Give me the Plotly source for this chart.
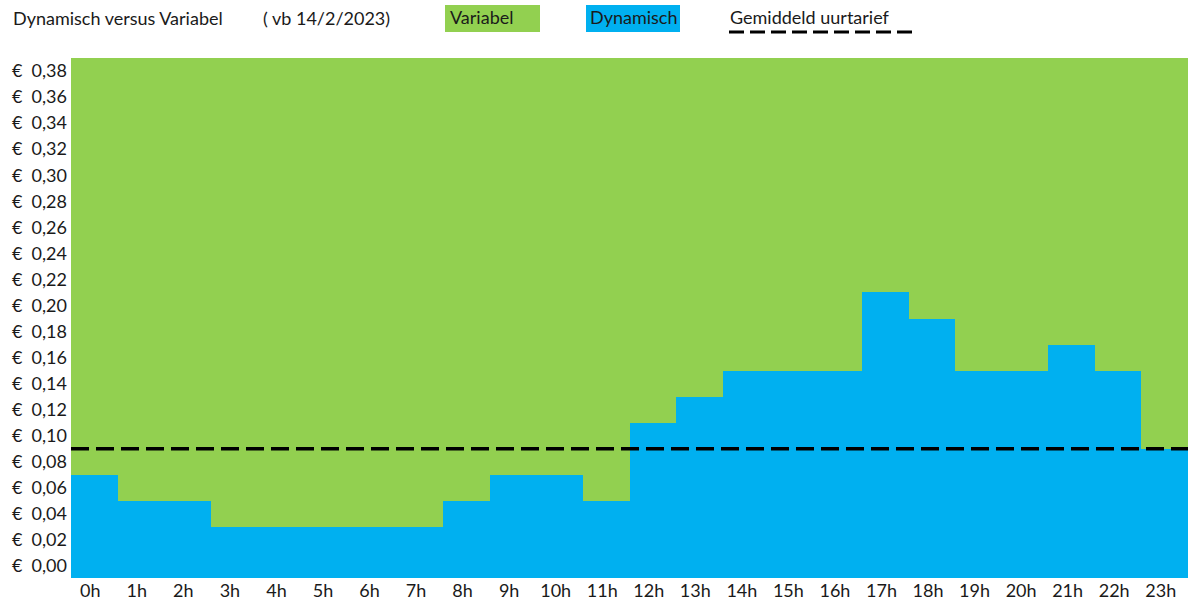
import plotly.graph_objects as go

hours = [f"{h}h" for h in range(24)]
dynamisch = [0.07, 0.05, 0.05, 0.03, 0.03, 0.03, 0.03, 0.03, 0.05, 0.07, 0.07, 0.05,
             0.11, 0.13, 0.15, 0.15, 0.15, 0.21, 0.19, 0.15, 0.15, 0.17, 0.15, 0.09]
gemiddeld = 0.09
y_ticks = [round(0.02 * i, 2) for i in range(20)]
y_labels = ["€  " + f"{v:.2f}".replace(".", ",") for v in y_ticks]

Y_MIN, Y_MAX = -0.0092, 0.39
GREEN = "#92D050"
BLUE = "#00B0F0"
FONT = "Lato, 'Open Sans', sans-serif"

fig = go.Figure()
fig.add_trace(go.Bar(
    x=hours, y=[v - Y_MIN for v in dynamisch], base=Y_MIN,
    marker=dict(color=BLUE, line=dict(width=0)), name="Dynamisch",
))
fig.add_shape(type="line", xref="paper", yref="y", x0=0, x1=1, y0=gemiddeld, y1=gemiddeld,
              line=dict(color="black", width=3.5, dash="18px,7px"))

# Legend drawn as annotations/shapes
PLOT_TOP, PLOT_BOT, PLOT_L, PLOT_R = 58, 578, 71, 1188
def px(xp):
    return (xp - PLOT_L) / (PLOT_R - PLOT_L)
def py(yp):
    return (PLOT_BOT - yp) / (PLOT_BOT - PLOT_TOP)

fig.add_shape(type="rect", xref="paper", yref="paper", x0=px(445), x1=px(540), y0=py(32), y1=py(5),
              fillcolor=GREEN, line=dict(width=0))
fig.add_shape(type="rect", xref="paper", yref="paper", x0=px(586), x1=px(680), y0=py(32), y1=py(5),
              fillcolor=BLUE, line=dict(width=0))
fig.add_shape(type="line", xref="paper", yref="paper", x0=px(729), x1=px(912), y0=py(32), y1=py(32),
              line=dict(color="black", width=3, dash="15px,6px"))

ann_font = dict(family=FONT, size=18, color="#1a1a1a")
annotations = [
    dict(text="Dynamisch versus Variabel", x=px(11), y=py(18)),
    dict(text="( vb 14/2/2023)", x=px(261), y=py(18)),
    dict(text="Variabel", x=px(448), y=py(17)),
    dict(text="Dynamisch", x=px(588), y=py(17)),
    dict(text="Gemiddeld uurtarief", x=px(728), y=py(17)),
]
for a in annotations:
    fig.add_annotation(xref="paper", yref="paper", xanchor="left", yanchor="middle",
                       showarrow=False, font=ann_font, **a)

fig.update_layout(
    width=1188, height=602,
    margin=dict(l=71, r=0, t=58, b=24, autoexpand=False),
    plot_bgcolor=GREEN, paper_bgcolor="white",
    bargap=0, showlegend=False,
    font=dict(family=FONT, size=18, color="#1a1a1a"),
    xaxis=dict(showgrid=False, zeroline=False, ticks="", tickfont=dict(size=18),
               range=[-0.5, 23.5], fixedrange=True, automargin=False, ticklabelshift=-4),
    yaxis=dict(range=[Y_MIN, Y_MAX], tickvals=y_ticks, ticktext=y_labels, showgrid=False,
               zeroline=False, ticks="", tickfont=dict(size=18), ticklabelstandoff=3,
               automargin=False),
)

fig.write_html("out.html", config={"displayModeBar": False},
               post_script="document.body.style.margin='0';document.body.style.overflow='hidden';")
